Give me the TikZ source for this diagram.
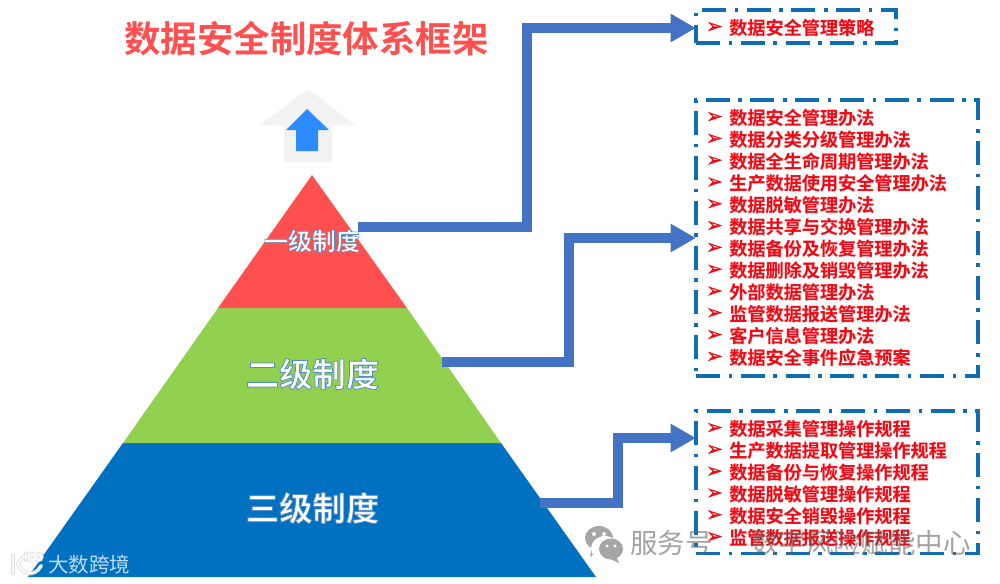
\documentclass[tikz,border=0pt]{standalone}
\usepackage{fontspec}
\usetikzlibrary{arrows.meta}
\setmainfont{Noto Sans CJK SC}
\newfontfamily\cjkbold{Noto Sans CJK SC Bold}
\newfontfamily\cjklight{Noto Sans CJK SC}
\newfontfamily\tierfont[FakeBold=2.4]{Noto Sans CJK SC Bold}
\newfontfamily\itemfont[FakeBold=0.5]{Noto Sans CJK SC Bold}
\newfontfamily\symfont[FakeBold=1]{DejaVu Sans}
\definecolor{boxblue}{HTML}{0F6DB3}
\definecolor{arrowblue}{HTML}{4472C4}
\definecolor{tiptop}{HTML}{FF5050}
\definecolor{tipmid}{HTML}{92D050}
\definecolor{tipbase}{HTML}{0070C0}
\definecolor{housegray}{HTML}{F2F2F2}
\definecolor{uparrow}{HTML}{2C8CFF}
\definecolor{itemred}{HTML}{EE0A14}
\newcommand{\outlined}[1]{\special{pdf:code 0.33 0.55 0.78 RG}#1}
\newcommand{\pinkline}[1]{\special{pdf:code 1 0.40 0.42 RG}#1}
\tikzset{
  flowline/.style={draw=arrowblue,line width=7.5pt,line join=miter,-{Triangle[length=19pt,width=20pt]}},
  dashbox/.style={draw=boxblue,line width=2.4pt,outer sep=0pt,inner sep=0pt,anchor=north west,dash pattern=on 18pt off 6.5pt on 2.6pt off 6.5pt},
  itemtext/.style={anchor=west,inner sep=0pt,text=itemred,font=\fontsize{13.6pt}{16pt}\itemfont},
  itembullet/.style={anchor=center,inner sep=0pt,text=itemred,font=\fontsize{15pt}{17pt}\symfont},
  tierlabel/.style={anchor=center,inner sep=0pt,text=white},
  wm/.style={inner sep=0pt,anchor=west,text=black!60,text opacity=.6}
}
\newcommand{\itemline}[3]{%
  \node[itembullet] (b#1) at (714.5,#2) {➢};
  \node[itemtext] (t#1) at (729,#2) {\pinkline{#3}};}
\begin{document}
\begin{tikzpicture}[x=0.75pt,y=-0.75pt]
\useasboundingbox (0,0) rectangle (1000,583);
\fill[white] (0,0) rectangle (1000,583);
% title
\node[anchor=center,inner sep=0pt,text=tiptop,font=\fontsize{27.3pt}{30pt}\cjkbold] (title) at (306.5,39) {数据安全制度体系框架};
% up arrow
\fill[housegray] (308,89) -- (355,125) -- (332,125) -- (332,162) -- (284,162) -- (284,125) -- (260,125) -- cycle;
\fill[uparrow] (307,109) -- (329,130) -- (318,130) -- (318,151) -- (296,151) -- (296,130) -- (286,130) -- cycle;
% pyramid
\fill[tipbase] (123,443) -- (501,443) -- (596,577) -- (28,577) -- cycle;
\fill[tipmid] (218,308) -- (407,308) -- (501,443) -- (123,443) -- cycle;
\fill[tiptop] (312,175) -- (407,308) -- (218,308) -- cycle;
\node[tierlabel,font=\fontsize{18pt}{20pt}\tierfont] (l1) at (312,241) {\outlined{一级制度}};
\node[tierlabel,font=\fontsize{25pt}{28pt}\tierfont] (l2) at (312.5,374) {\outlined{二级制度}};
\node[tierlabel,font=\fontsize{25pt}{28pt}\tierfont] (l3) at (312.5,508) {\outlined{三级制度}};
% boxes
\node[dashbox,minimum width=150pt,minimum height=24.8pt] (box1) at (696,10) {};
\node[dashbox,minimum width=211.5pt,minimum height=207pt] (box2) at (696,100) {};
\node[dashbox,minimum width=211.5pt,minimum height=107pt] (box3) at (696,411) {};
% connectors
\coordinate (s1) at (358,227);
\coordinate (s2) at (442,362);
\coordinate (s3) at (540,503);
\coordinate (e1) at (box1.west |- 0,28);
\coordinate (e2) at (box2.west |- 0,238);
\coordinate (e3) at (box3.west |- 0,438);
\draw[flowline] (s1) -- (527,227) -- (527,28) -- (e1);
\draw[flowline] (s2) -- (569,362) -- (569,238) -- (e2);
\draw[flowline] (s3) -- (618,503) -- (618,438) -- (e3);
% items
\itemline{a1}{27.5}{数据安全管理策略}
\itemline{b1}{117.5}{数据安全管理办法}
\itemline{b2}{139.3}{数据分类分级管理办法}
\itemline{b3}{161.1}{数据全生命周期管理办法}
\itemline{b4}{182.9}{生产数据使用安全管理办法}
\itemline{b5}{204.7}{数据脱敏管理办法}
\itemline{b6}{226.5}{数据共享与交换管理办法}
\itemline{b7}{248.3}{数据备份及恢复管理办法}
\itemline{b8}{270.1}{数据删除及销毁管理办法}
\itemline{b9}{291.9}{外部数据管理办法}
\itemline{b10}{313.7}{监管数据报送管理办法}
\itemline{b11}{335.5}{客户信息管理办法}
\itemline{b12}{357.3}{数据安全事件应急预案}
\itemline{c1}{428.5}{数据采集管理操作规程}
\itemline{c2}{450.3}{生产数据提取管理操作规程}
\itemline{c3}{472.1}{数据备份与恢复操作规程}
\itemline{c4}{493.9}{数据脱敏管理操作规程}
\itemline{c5}{515.7}{数据安全销毁操作规程}
\itemline{c6}{537.5}{监管数据报送操作规程}
% watermark right
\fill[black!35] (599,538) ellipse (14 and 12);
\fill[black!35] (601,548) -- (590,557) -- (592,546) -- cycle;
\fill[white] (605,548.5) ellipse (14 and 12.5);
\fill[black!35] (611,549) ellipse (12 and 10.5);
\fill[black!35] (616,556) -- (619,563) -- (610,559) -- cycle;
\fill[white] (594,534) circle (2) (604,534) circle (2) (607,546) circle (1.7) (615,546) circle (1.7);
\node[wm,font=\fontsize{20.6pt}{24pt}\cjklight] (wmr) at (630,543) {服务号\hspace{1.4em}数字风险赋能中心};
% watermark left
\begin{scope}[line cap=round,fill=none,opacity=.85]
\foreach \col/\wid in {black!15/3pt,white/1.8pt}{
\draw[draw=\col,line width=\wid] (13,556) -- (13,573);
\draw[draw=\col,line width=\wid] (24,556) -- (18,564) .. controls (22,574) and (34,578) .. (41,566);
\draw[draw=\col,line width=\wid] (26,553.5) -- (26,560);
\draw[draw=\col,line width=\wid] (31.5,557) circle (3.2) (38.5,557) circle (3.2);
}
\end{scope}
\node[inner sep=0pt,anchor=west,text=white,opacity=.75,font=\fontsize{15.4pt}{18pt}\cjklight] (wml) at (48,564.5) {大数跨境};
\end{tikzpicture}
\end{document}
